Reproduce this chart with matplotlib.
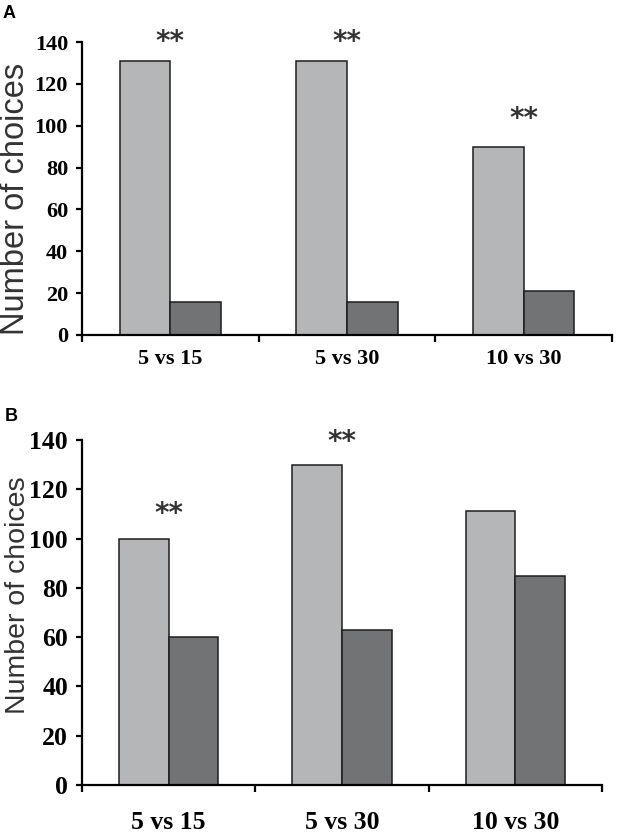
"""Two stacked bar panels: number of choices per comparison (A and B)."""

import matplotlib

matplotlib.use("Agg")
import matplotlib.pyplot as plt  # noqa: E402
import numpy as np  # noqa: E402

categories = ["5 vs 15", "5 vs 30", "10 vs 30"]

# panel A
a_light = [131, 131, 90]
a_dark = [16, 16, 21]
a_star_y = [140, 140, 103]      # where the "**" sit
a_star_on = [True, True, True]

# panel B
b_light = [100, 130, 111]
b_dark = [60, 63, 85]
b_star_y = [110, 139, 0]
b_star_on = [True, True, False]

yticks = [0, 20, 40, 60, 80, 100, 120, 140]

LIGHT = "#b5b6b8"
DARK = "#727375"
EDGE = "#1e1e1e"
W = 630 / 100
H = 838 / 100


def draw_panel(ax, light, dark, star_y, star_on, tick_size, label_size, xpad, label_xy):
    x = np.arange(len(categories)) + 0.5
    bw = 0.287
    ax.bar(x - bw / 2, light, bw, color=LIGHT, edgecolor=EDGE, linewidth=1.1, zorder=2)
    ax.bar(x + bw / 2, dark, bw, color=DARK, edgecolor=EDGE, linewidth=1.1, zorder=2)
    for xi, yi, on in zip(x, star_y, star_on):
        if on:
            ax.text(xi, yi, "**", ha="center", va="center", fontsize=20,
                    fontweight="bold", color="#333333", family="DejaVu Sans")

    ax.set_xlim(0, len(categories))
    ax.set_ylim(0, 140)
    ax.set_yticks(yticks)
    ax.set_yticklabels([str(v) for v in yticks], family="Liberation Serif",
                       fontweight="bold", fontsize=tick_size)
    ax.set_xticks(x)
    ax.set_xticklabels(categories, family="Liberation Serif",
                       fontweight="bold", fontsize=tick_size)
    ax.set_xticks(np.arange(len(categories) + 1), minor=True)
    ax.tick_params(axis="x", which="major", length=0, pad=xpad)
    ax.tick_params(axis="x", which="minor", length=5, width=1.6, direction="out")
    ax.tick_params(axis="y", length=4, width=1.6, direction="out", pad=6)
    for side in ("top", "right"):
        ax.spines[side].set_visible(False)
    for side in ("left", "bottom"):
        ax.spines[side].set_linewidth(1.6)
    ax.set_ylabel("Number of choices", family="Liberation Sans",
                  fontsize=label_size, color="#333333")
    ax.yaxis.set_label_coords(*label_xy)


fig = plt.figure(figsize=(W, H), dpi=100)
ax_a = fig.add_axes([82 / 630, 1 - 335 / 838, 530 / 630, 293 / 838])
ax_b = fig.add_axes([82 / 630, 1 - 785 / 838, 520 / 630, 345 / 838])

draw_panel(ax_a, a_light, a_dark, a_star_y, a_star_on, 16, 23.5, 10,
           ((31 - 82) / 530, (335 - 199) / 293))
draw_panel(ax_b, b_light, b_dark, b_star_y, b_star_on, 18.5, 20.5, 19,
           ((31 - 82) / 520, (785 - 595) / 345))

fig.text(3 / 630, 1 - 14 / 838, "A", fontsize=13, fontweight="bold",
         family="Liberation Sans", va="center")
fig.text(5 / 630, 1 - 416 / 838, "B", fontsize=13, fontweight="bold",
         family="Liberation Sans", va="center")

fig.savefig("out.png", dpi=100)
plt.close(fig)
